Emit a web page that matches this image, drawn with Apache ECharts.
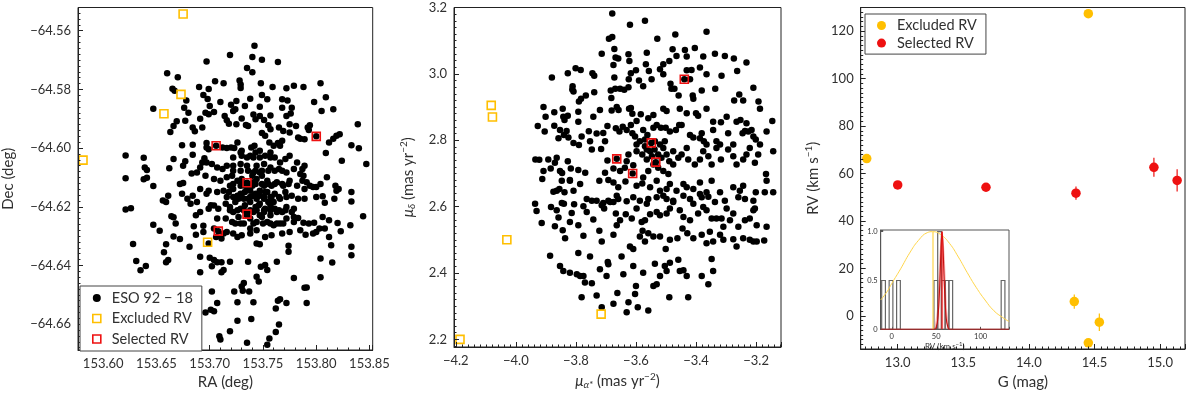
<!DOCTYPE html>
<html><head><meta charset="utf-8">
<script src="https://cdn.jsdelivr.net/npm/echarts@6/dist/echarts.min.js"></script>
<style>html,body{margin:0;padding:0;background:#fff}#c{width:1200px;height:395px}</style>
</head><body><div id="c"></div>
<script>
// ---------- Panel 1: RA / Dec ----------
const esoRaDec = [
[153.742,-64.5651],[153.719,-64.5683],[153.740,-64.5690],[153.749,-64.5699],[153.697,-64.5705],[153.764,-64.5707],[153.735,-64.5727],[153.740,-64.5742],[153.660,-64.5745],[153.670,-64.5759],
[153.705,-64.5772],[153.713,-64.5779],[153.728,-64.5770],[153.729,-64.5783],[153.729,-64.5795],[153.748,-64.5779],[153.690,-64.5792],[153.699,-64.5799],[153.759,-64.5792],[153.665,-64.5798],
[153.667,-64.5805],[153.772,-64.5796],[153.779,-64.5788],[153.788,-64.5792],[153.804,-64.5779],[153.809,-64.5827],[153.694,-64.5819],[153.698,-64.5833],[153.738,-64.5832],[153.749,-64.5819],
[153.754,-64.5834],[153.768,-64.5834],[153.773,-64.5838],[153.798,-64.5843],[153.805,-64.5874],[153.816,-64.5868],[153.647,-64.5866],[153.678,-64.5838],[153.676,-64.5863],[153.680,-64.5880],
[153.677,-64.5907],[153.669,-64.5909],[153.666,-64.5925],[153.663,-64.5945],[153.684,-64.5930],[153.686,-64.5943],[153.691,-64.5900],[153.693,-64.5930],[153.696,-64.5880],[153.699,-64.5885],
[153.704,-64.5877],[153.700,-64.5857],[153.710,-64.5843],[153.720,-64.5852],[153.725,-64.5840],[153.714,-64.5891],[153.716,-64.5905],[153.718,-64.5917],[153.722,-64.5874],[153.724,-64.5868],
[153.730,-64.5899],[153.734,-64.5921],[153.736,-64.5925],[153.725,-64.5919],[153.741,-64.5886],[153.743,-64.5902],[153.747,-64.5891],[153.747,-64.5859],[153.751,-64.5904],[153.757,-64.5889],
[153.755,-64.5922],[153.757,-64.5936],[153.768,-64.5863],[153.772,-64.5891],[153.776,-64.5882],[153.777,-64.5863],[153.765,-64.5930],[153.769,-64.5942],[153.775,-64.5919],[153.781,-64.5925],
[153.792,-64.5930],[153.794,-64.5922],[153.733,-64.5857],[153.839,-64.5919],
[153.674,-64.5990],[153.684,-64.5989],[153.697,-64.5983],[153.697,-64.5998],[153.699,-64.6004],[153.712,-64.5998],[153.716,-64.6000],[153.720,-64.5998],[153.723,-64.6000],[153.726,-64.5981],
[153.729,-64.6015],[153.730,-64.6026],[153.739,-64.5998],[153.742,-64.5992],[153.749,-64.5949],[153.752,-64.5958],[153.756,-64.5981],[153.760,-64.5992],[153.764,-64.5983],[153.766,-64.5992],
[153.768,-64.5975],[153.775,-64.5947],[153.783,-64.5964],[153.785,-64.5968],[153.789,-64.5970],[153.793,-64.5938],[153.812,-64.5981],[153.816,-64.5968],[153.819,-64.5958],[153.822,-64.5953],
[153.833,-64.5990],[153.840,-64.6001],[153.809,-64.6017],[153.824,-64.6043],[153.847,-64.6054],[153.621,-64.6025],[153.638,-64.6033],[153.639,-64.6066],[153.641,-64.6075],[153.677,-64.6045],
[153.675,-64.6060],[153.684,-64.6023],[153.695,-64.6035],[153.697,-64.6049],[153.702,-64.6054],[153.662,-64.6069],[153.666,-64.6037],
[153.621,-64.6103],[153.641,-64.6101],[153.638,-64.6106],[153.647,-64.6129],[153.656,-64.6179],[153.661,-64.6162],[153.659,-64.6184],[153.672,-64.6122],[153.675,-64.6119],[153.683,-64.6087],
[153.688,-64.6083],[153.691,-64.6066],[153.674,-64.6156],[153.679,-64.6173],[153.684,-64.6162],[153.682,-64.6190],
[153.621,-64.6209],[153.626,-64.6205],[153.664,-64.6232],[153.666,-64.6236],[153.668,-64.6257],[153.647,-64.6261],[153.653,-64.6282],[153.666,-64.6301],[153.672,-64.6310],[153.688,-64.6184],
[153.687,-64.6229],[153.685,-64.6266],[153.687,-64.6295],[153.694,-64.6265],[153.694,-64.6286],[153.704,-64.6274],[153.691,-64.6218],[153.699,-64.6207],[153.704,-64.6196],[153.697,-64.6156],
[153.628,-64.6327],[153.659,-64.6328],[153.681,-64.6336],[153.657,-64.6355],[153.659,-64.6389],[153.661,-64.6381],[153.631,-64.6385],[153.635,-64.6416],[153.640,-64.6402],[153.699,-64.6325],
[153.691,-64.6370],[153.700,-64.6374],[153.704,-64.6381],[153.702,-64.6403],[153.691,-64.6423],[153.707,-64.6389],[153.711,-64.6423],[153.713,-64.6415],[153.711,-64.6389],[153.719,-64.6387],
[153.706,-64.6303],[153.711,-64.6308],[153.713,-64.6291],[153.726,-64.6303],
[153.696,-64.6560],[153.702,-64.6489],[153.707,-64.6528],[153.701,-64.6551],[153.704,-64.6556],[153.709,-64.6641],[153.710,-64.6652],[153.719,-64.6624],[153.726,-64.6588],[153.723,-64.6489],
[153.726,-64.6525],[153.730,-64.6472],[153.731,-64.6486],[153.735,-64.6663],[153.739,-64.6582],[153.741,-64.6525],[153.754,-64.6670],[153.756,-64.6649],[153.762,-64.6627],[153.765,-64.6601],
[153.762,-64.6547],[153.764,-64.6520],[153.766,-64.6515],[153.772,-64.6528],[153.746,-64.6455],[153.744,-64.6438],[153.752,-64.6398],[153.754,-64.6415],[153.748,-64.6404],[153.763,-64.6387],
[153.737,-64.6489],[153.732,-64.6460],[153.736,-64.6387],[153.744,-64.6325],[153.747,-64.6328],[153.789,-64.6476],[153.791,-64.6475],[153.791,-64.6528],[153.804,-64.6440],[153.815,-64.6390],
[153.833,-64.6365],[153.779,-64.6443],[153.774,-64.6353],[153.774,-64.6333],
[153.789,-64.6060],[153.787,-64.6071],[153.785,-64.6088],[153.788,-64.6094],[153.779,-64.6071],[153.810,-64.6099],[153.787,-64.6111],[153.791,-64.6116],[153.794,-64.6128],[153.797,-64.6133],
[153.800,-64.6133],[153.804,-64.6122],[153.789,-64.6139],[153.818,-64.6128],[153.819,-64.6145],[153.821,-64.6139],[153.833,-64.6150],[153.800,-64.6167],[153.806,-64.6164],[153.808,-64.6186],
[153.789,-64.6173],[153.817,-64.6173],[153.777,-64.6218],[153.779,-64.6235],[153.783,-64.6238],[153.788,-64.6254],[153.793,-64.6257],[153.798,-64.6254],[153.806,-64.6235],[153.808,-64.6274],
[153.812,-64.6246],[153.820,-64.6255],[153.823,-64.6283],[153.832,-64.6263],[153.844,-64.6232],[153.790,-64.6295],[153.797,-64.6291],[153.800,-64.6286],[153.803,-64.6274],[153.812,-64.6303],
[153.814,-64.6331],[153.833,-64.6336],[153.804,-64.6376],[153.833,-64.6182],
[153.730,-64.6009],[153.738,-64.6026],[153.743,-64.6015],[153.747,-64.6009],[153.752,-64.6026],[153.757,-64.6015],[153.761,-64.6032],[153.766,-64.6049],[153.771,-64.6037],[153.775,-64.6026],
[153.782,-64.6049],[153.693,-64.6049],[153.707,-64.6066],[153.712,-64.6071],[153.716,-64.6060],[153.722,-64.6060],[153.729,-64.6054],[153.735,-64.6060],[153.744,-64.6060],[153.751,-64.6054],
[153.757,-64.6066],[153.765,-64.6071],[153.772,-64.6083],[153.696,-64.6094],[153.704,-64.6105],[153.710,-64.6111],[153.716,-64.6099],[153.721,-64.6094],[153.726,-64.6111],[153.730,-64.6105],
[153.740,-64.6094],[153.744,-64.6105],[153.749,-64.6094],[153.754,-64.6111],[153.758,-64.6128],[153.763,-64.6116],[153.769,-64.6128],[153.775,-64.6111],[153.782,-64.6128],[153.691,-64.6139],
[153.699,-64.6145],[153.707,-64.6150],[153.713,-64.6145],[153.718,-64.6150],[153.722,-64.6139],[153.729,-64.6156],[153.733,-64.6150],[153.738,-64.6145],[153.743,-64.6156],[153.747,-64.6145],
[153.752,-64.6150],[153.757,-64.6167],[153.761,-64.6156],[153.766,-64.6173],[153.771,-64.6150],[153.777,-64.6162],[153.783,-64.6173],[153.701,-64.6195],[153.708,-64.6207],[153.715,-64.6190],
[153.719,-64.6201],[153.724,-64.6184],[153.729,-64.6207],[153.733,-64.6195],[153.738,-64.6184],[153.743,-64.6201],[153.747,-64.6190],[153.752,-64.6207],[153.757,-64.6195],[153.761,-64.6207],
[153.768,-64.6218],[153.772,-64.6201],[153.779,-64.6207],[153.707,-64.6240],[153.715,-64.6240],[153.721,-64.6252],[153.727,-64.6235],[153.732,-64.6257],[153.738,-64.6240],[153.744,-64.6252],
[153.749,-64.6235],[153.754,-64.6252],[153.760,-64.6263],[153.766,-64.6257],[153.772,-64.6240],[153.779,-64.6252],[153.716,-64.6286],[153.722,-64.6291],[153.730,-64.6297],[153.738,-64.6291],
[153.744,-64.6280],[153.752,-64.6303],[153.758,-64.6297],[153.768,-64.6291],[153.775,-64.6286],[153.785,-64.6280],
[153.733,-64.6128],[153.736,-64.6139],[153.740,-64.6128],[153.741,-64.6162],[153.744,-64.6173],[153.747,-64.6162],[153.751,-64.6173],[153.746,-64.6195],[153.741,-64.6218],[153.736,-64.6173],
[153.732,-64.6173],[153.751,-64.6128],[153.754,-64.6150],[153.755,-64.6184],[153.741,-64.6116],[153.729,-64.6128],[153.726,-64.6162],[153.735,-64.6229],[153.751,-64.6218],[153.760,-64.6184],
[153.722,-64.6218],[153.727,-64.6173],[153.719,-64.6128],[153.763,-64.6218],[153.738,-64.6274],[153.747,-64.6229],[153.757,-64.6229],[153.741,-64.6083],[153.747,-64.6083],
[153.722,-64.6077],[153.729,-64.6077],[153.736,-64.6077],[153.743,-64.6077],[153.749,-64.6077],[153.755,-64.6077],[153.761,-64.6077],[153.768,-64.6077],
[153.722,-64.6122],[153.730,-64.6122],[153.736,-64.6122],[153.743,-64.6122],[153.749,-64.6122],[153.755,-64.6122],[153.761,-64.6122],[153.768,-64.6122],[153.774,-64.6122],
[153.716,-64.6167],[153.722,-64.6167],[153.730,-64.6167],[153.738,-64.6167],[153.744,-64.6167],[153.751,-64.6167],[153.758,-64.6167],[153.765,-64.6167],[153.772,-64.6167],
[153.719,-64.6212],[153.726,-64.6212],[153.732,-64.6212],[153.738,-64.6212],[153.744,-64.6212],[153.751,-64.6212],[153.757,-64.6212],[153.765,-64.6212],[153.771,-64.6212],
[153.724,-64.6257],[153.729,-64.6257],[153.741,-64.6257],[153.750,-64.6257],[153.757,-64.6257],[153.763,-64.6257],[153.769,-64.6257],
[153.722,-64.6032],[153.735,-64.6032],[153.741,-64.6032],[153.747,-64.6032],[153.757,-64.6032],
[153.706,-64.5992],[153.800,-64.5960],[153.735,-64.6118],[153.735,-64.6225],[153.708,-64.6283]
];
const excludedRaDec = [[153.675,-64.5543],[153.673,-64.5817],[153.657,-64.5883],[153.581,-64.6041],[153.698,-64.6321]];
const selectedRaDec = [[153.706,-64.5992],[153.800,-64.5960],[153.735,-64.6118],[153.735,-64.6225],[153.708,-64.6283]];

// ---------- Panel 2: proper motions ----------
const esoPm = [
[-3.679,3.182],[-3.620,3.148],[-3.570,3.160],[-3.529,3.106],[-3.469,3.119],[-3.365,3.127],[-3.690,3.106],[-3.679,3.111],[-3.714,3.061],[-3.672,3.075],
[-3.564,3.064],[-3.625,3.059],[-3.622,3.039],[-3.668,3.049],[-3.659,3.046],[-3.478,3.074],[-3.437,3.072],[-3.465,3.054],[-3.489,3.039],[-3.431,3.052],
[-3.404,3.078],[-3.376,3.052],[-3.337,3.061],[-3.304,3.054],[-3.274,3.046],[-3.509,3.029],[-3.520,3.014],[-3.880,2.989],[-3.827,3.002],[-3.801,3.017],
[-3.784,3.012],[-3.745,3.002],[-3.739,2.994],[-3.672,2.989],[-3.675,3.027],[-3.600,3.011],[-3.617,3.002],[-3.624,2.984],[-3.590,2.980],[-3.567,3.029],
[-3.557,3.009],[-3.509,2.999],[-3.431,3.011],[-3.415,3.012],[-3.387,3.019],[-3.365,2.999],[-3.315,2.994],[-3.263,3.009],[-3.232,3.034],[-3.811,2.963],
[-3.812,2.953],[-3.808,2.947],[-3.783,2.925],[-3.790,2.917],[-3.767,2.935],[-3.739,2.945],[-3.684,2.950],[-3.682,2.927],[-3.669,2.955],[-3.653,2.955],
[-3.639,2.952],[-3.625,2.960],[-3.576,2.963],[-3.548,2.984],[-3.485,2.970],[-3.482,2.955],[-3.472,2.955],[-3.458,2.935],[-3.420,2.984],[-3.409,2.925],
[-3.411,2.935],[-3.381,2.950],[-3.336,2.955],[-3.273,2.920],[-3.256,2.938],[-3.209,2.958],[-3.192,2.917],[-3.187,2.895],[-3.243,2.920],[-3.908,2.900],
[-3.901,2.871],[-3.872,2.884],[-3.844,2.895],[-3.842,2.871],[-3.838,2.861],[-3.827,2.874],[-3.792,2.886],[-3.792,2.856],[-3.742,2.871],[-3.720,2.891],
[-3.681,2.890],[-3.664,2.900],[-3.658,2.891],[-3.623,2.895],[-3.617,2.897],[-3.612,2.880],[-3.598,2.858],[-3.584,2.878],[-3.559,2.866],[-3.542,2.876],
[-3.509,2.895],[-3.498,2.888],[-3.456,2.846],[-3.454,2.895],[-3.431,2.881],[-3.400,2.881],[-3.393,2.874],[-3.365,2.895],[-3.343,2.856],[-3.317,2.854],
[-3.298,2.871],[-3.265,2.856],[-3.252,2.861],[-3.237,2.828],[-3.232,2.851],[-3.215,2.831],[-3.146,2.858],[-3.927,2.843],[-3.904,2.826],[-3.872,2.844],
[-3.853,2.831],[-3.840,2.816],[-3.858,2.806],[-3.831,2.828],[-3.825,2.808],[-3.808,2.792],[-3.790,2.786],[-3.781,2.811],[-3.757,2.827],[-3.753,2.797],
[-3.731,2.820],[-3.709,2.822],[-3.703,2.797],[-3.695,2.843],[-3.667,2.836],[-3.655,2.826],[-3.644,2.841],[-3.631,2.831],[-3.617,2.846],[-3.612,2.821],
[-3.603,2.811],[-3.576,2.831],[-3.562,2.816],[-3.542,2.838],[-3.531,2.846],[-3.517,2.838],[-3.501,2.838],[-3.487,2.826],[-3.467,2.831],[-3.448,2.846],
[-3.420,2.816],[-3.409,2.808],[-3.387,2.806],[-3.381,2.821],[-3.374,2.797],[-3.365,2.787],[-3.343,2.831],[-3.332,2.797],[-3.320,2.787],[-3.293,2.821],
[-3.276,2.787],[-3.245,2.821],[-3.226,2.826],[-3.209,2.811],[-3.201,2.802],[-3.187,2.787],[-3.165,2.826],
[-3.935,2.742],[-3.922,2.741],[-3.908,2.707],[-3.892,2.742],[-3.884,2.715],[-3.870,2.732],[-3.864,2.747],[-3.853,2.707],[-3.846,2.701],[-3.827,2.737],
[-3.820,2.678],[-3.817,2.715],[-3.792,2.710],[-3.769,2.702],[-3.747,2.772],[-3.716,2.774],[-3.695,2.739],[-3.703,2.702],[-3.675,2.715],[-3.653,2.707],
[-3.637,2.717],[-3.631,2.737],[-3.609,2.725],[-3.598,2.767],[-3.579,2.757],[-3.570,2.782],[-3.564,2.742],[-3.553,2.767],[-3.547,2.752],[-3.538,2.772],
[-3.526,2.757],[-3.515,2.747],[-3.509,2.777],[-3.498,2.757],[-3.489,2.737],[-3.476,2.727],[-3.459,2.747],[-3.448,2.757],[-3.431,2.777],[-3.426,2.742],
[-3.404,2.727],[-3.387,2.742],[-3.376,2.767],[-3.359,2.752],[-3.348,2.727],[-3.332,2.777],[-3.317,2.742],[-3.293,2.772],[-3.276,2.752],[-3.265,2.727],
[-3.243,2.742],[-3.232,2.757],[-3.221,2.777],[-3.204,2.732],[-3.193,2.757],[-3.167,2.698],[-3.143,2.767],
[-3.587,2.797],[-3.570,2.802],[-3.537,2.797],[-3.520,2.787],[-3.504,2.797],[-3.542,2.727],[-3.526,2.717],[-3.509,2.707],[-3.492,2.698],[-3.559,2.707],
[-3.576,2.688],[-3.476,2.767],[-3.564,2.772],[-3.598,2.787],[-3.625,2.757],
[-3.912,2.683],[-3.847,2.678],[-3.820,2.680],[-3.786,2.668],[-3.722,2.678],[-3.692,2.680],[-3.675,2.673],[-3.659,2.658],[-3.635,2.676],[-3.598,2.663],
[-3.579,2.670],[-3.553,2.658],[-3.531,2.678],[-3.520,2.648],[-3.498,2.653],[-3.487,2.668],[-3.465,2.648],[-3.442,2.668],[-3.431,2.658],[-3.409,2.653],
[-3.387,2.673],[-3.365,2.643],[-3.348,2.678],[-3.320,2.643],[-3.276,2.658],[-3.254,2.648],[-3.243,2.663],[-3.201,2.643],[-3.165,2.678],
[-3.875,2.645],[-3.864,2.648],[-3.855,2.653],[-3.838,2.643],[-3.808,2.648],[-3.764,2.623],[-3.731,2.618],[-3.709,2.611],[-3.686,2.614],[-3.664,2.633],
[-3.659,2.623],[-3.631,2.616],[-3.609,2.628],[-3.587,2.618],[-3.559,2.623],[-3.531,2.628],[-3.509,2.633],[-3.498,2.623],[-3.476,2.618],[-3.442,2.633],
[-3.420,2.623],[-3.387,2.638],[-3.381,2.628],[-3.359,2.630],[-3.337,2.614],[-3.304,2.618],[-3.259,2.628],[-3.237,2.623],[-3.209,2.618],[-3.204,2.594],
[-3.171,2.643],[-3.143,2.643],
[-3.936,2.609],[-3.931,2.587],[-3.883,2.599],[-3.864,2.589],[-3.847,2.611],[-3.840,2.609],[-3.814,2.581],[-3.806,2.607],[-3.775,2.601],[-3.764,2.584],
[-3.747,2.618],[-3.714,2.604],[-3.706,2.594],[-3.692,2.618],[-3.675,2.614],[-3.667,2.579],[-3.653,2.559],[-3.634,2.577],[-3.614,2.564],[-3.598,2.594],
[-3.581,2.554],[-3.570,2.559],[-3.564,2.609],[-3.553,2.577],[-3.531,2.584],[-3.520,2.574],[-3.498,2.579],[-3.487,2.594],[-3.476,2.614],[-3.454,2.589],
[-3.442,2.569],[-3.420,2.559],[-3.409,2.609],[-3.393,2.579],[-3.376,2.599],[-3.365,2.589],[-3.348,2.564],[-3.332,2.564],[-3.315,2.564],[-3.309,2.539],
[-3.298,2.594],[-3.287,2.559],[-3.276,2.579],[-3.259,2.539],[-3.237,2.559],[-3.221,2.564],[-3.209,2.589],[-3.198,2.544],[-3.165,2.539],
[-3.914,2.551],[-3.870,2.541],[-3.858,2.567],[-3.844,2.529],[-3.836,2.505],[-3.820,2.554],[-3.792,2.544],[-3.775,2.512],[-3.742,2.561],[-3.722,2.527],
[-3.714,2.495],[-3.675,2.515],[-3.664,2.544],[-3.648,2.450],[-3.620,2.480],[-3.609,2.472],[-3.587,2.510],[-3.578,2.527],[-3.570,2.495],[-3.559,2.520],
[-3.542,2.510],[-3.520,2.510],[-3.501,2.472],[-3.487,2.500],[-3.462,2.505],[-3.445,2.534],[-3.429,2.520],[-3.409,2.505],[-3.381,2.515],[-3.365,2.490],
[-3.354,2.524],[-3.343,2.495],[-3.320,2.515],[-3.309,2.500],[-3.276,2.502],[-3.265,2.480],[-3.243,2.505],[-3.221,2.500],[-3.209,2.495],[-3.198,2.495],
[-3.173,2.498],
[-3.886,2.452],[-3.853,2.421],[-3.842,2.406],[-3.820,2.401],[-3.792,2.460],[-3.775,2.391],[-3.770,2.371],[-3.753,2.450],[-3.747,2.369],[-3.731,2.332],
[-3.720,2.411],[-3.714,2.297],[-3.698,2.391],[-3.694,2.433],[-3.692,2.426],[-3.675,2.307],[-3.662,2.340],[-3.642,2.396],[-3.625,2.312],[-3.609,2.421],
[-3.603,2.337],[-3.600,2.361],[-3.594,2.297],[-3.576,2.401],[-3.559,2.287],[-3.542,2.361],[-3.537,2.428],[-3.531,2.366],[-3.520,2.391],[-3.504,2.421],
[-3.498,2.406],[-3.489,2.327],[-3.487,2.431],[-3.459,2.440],[-3.454,2.406],[-3.442,2.408],[-3.431,2.391],[-3.426,2.327],[-3.381,2.391],[-3.359,2.366],
[-3.348,2.442],[-3.343,2.406],[-3.797,2.396],[-3.786,2.391],[-3.781,2.327],[-3.631,2.282],
[-3.439,2.984],[-3.664,2.744],[-3.549,2.792],[-3.534,2.734],[-3.611,2.700]
];
const excludedPm = [[-4.082,2.905],[-4.078,2.870],[-4.030,2.500],[-3.716,2.276],[-4.186,2.200]];
const selectedPm = [[-3.439,2.984],[-3.664,2.744],[-3.549,2.792],[-3.534,2.734],[-3.611,2.700]];

// ---------- Panel 3: G vs RV  [G, RV, error] ----------
const rvExcluded = [[12.764,66.3,1.0],[14.453,127.4,1.0],[14.346,6.0,3.0],[14.537,-2.7,3.7],[14.453,-11.4,1.0]];
const rvSelected = [[13.000,55.2,1.0],[13.673,54.2,1.0],[14.359,51.7,2.8],[14.953,62.6,4.0],[15.130,57.1,4.7]];

// ---------- Inset: RV distribution ----------
const histLeft = [-11.4,-2.99,5.42,47.48,51.69,55.9,60.1,64.31,123.19];
const histHeight = [0.5,0.5,0.5,0.5,1.0,0.5,0.5,0.5,0.5];
const histBinWidth = 4.206;
const yellowCurve = [[-12.5,0.30],[-5,0.39],[0,0.47],[10,0.62],[20,0.78],[30,0.91],[40,0.99],[46,1.0],[55,0.97],[65,0.88],[75,0.74],[85,0.58],[95,0.43],[105,0.30],[115,0.19],[125,0.12],[132,0.08]];
const redCurve = [[-12.5,0],[48,0],[50,0.02],[52,0.12],[54,0.45],[55.5,0.85],[56.6,1.0],[57.7,0.85],[59.2,0.45],[61.2,0.12],[63.2,0.02],[65,0],[132,0]];
const redBand = [[49,0],[52,0.2],[54.5,0.7],[56.6,1.0],[58.7,0.7],[61.2,0.2],[64,0]];
const excludedMeanRV = 46.4;
const selectedMeanRV = 56.6;

// ---------- styling ----------
const YEL = '#ffbf00', RED = '#ee1111', FONT = 'Lato', TXT = '#303030', AX = '#222';
const fmt = (step, dec) => v => {
  const k = v / step;
  if (Math.abs(k - Math.round(k)) > 1e-6) return '';
  return v.toFixed(dec).replace('-', '\u2212');
};
const rich = {
  m: {fontFamily: FONT, fontSize: 15, fontStyle: 'italic', color: TXT},
  s: {fontFamily: FONT, fontSize: 10, fontStyle: 'italic', color: TXT, padding: [8, 0, 0, 0]},
  p: {fontFamily: FONT, fontSize: 10, color: TXT, padding: [0, 0, 8, 0]},
  ps: {fontFamily: FONT, fontSize: 6, color: TXT, padding: [0, 0, 5, 0]}
};
function axis(o) {
  const small = !!o.small;
  return {
    type: 'value', gridIndex: o.grid, min: o.min, max: o.max,
    minInterval: o.step, maxInterval: o.step, splitNumber: 5,
    name: o.name, nameLocation: 'middle', nameGap: o.gap,
    nameTextStyle: {fontFamily: FONT, fontSize: small ? 8 : 15, color: TXT, rich: rich},
    axisLine: {show: true, onZero: false, lineStyle: {color: small ? '#555' : AX, width: 1}},
    axisTick: {show: true, inside: true, length: small ? 2.5 : 5, lineStyle: {color: small ? '#555' : AX}},
    minorTick: {show: !small, splitNumber: o.minor || 10, length: 2.5, lineStyle: {color: AX}},
    splitLine: {show: false},
    axisLabel: {formatter: o.fmt, margin: small ? 3 : 7, fontFamily: FONT, fontSize: small ? 7.5 : 13, color: TXT, hideOverlap: false},
    z: 5
  };
}
const chart = echarts.init(document.getElementById('c'), null, {renderer: 'canvas'});
const hollow = c => ({color: 'rgba(255,255,255,0)', borderColor: c, borderWidth: 1.6, opacity: 1});
const solid = c => ({color: c, opacity: 1});
function errBar(color) {
  return function (params, api) {
    const g = api.value(0), rv = api.value(1), e = api.value(2);
    const a = api.coord([g, rv - e]), b = api.coord([g, rv + e]);
    return {type: 'line', shape: {x1: a[0], y1: a[1], x2: b[0], y2: b[1]}, style: {stroke: color, lineWidth: 1.2}};
  };
}
const option = {
  animation: false,
  backgroundColor: '#fff',
  grid: [
    {left: 77, top: 7.5, width: 295.7, height: 344.5, show: true, borderColor: AX, borderWidth: 1, backgroundColor: 'transparent'},
    {left: 454, top: 7.5, width: 327, height: 344.5, show: true, borderColor: AX, borderWidth: 1, backgroundColor: 'transparent'},
    {left: 860.7, top: 7.5, width: 324.3, height: 345.5, show: true, borderColor: AX, borderWidth: 1, backgroundColor: 'transparent'},
    {left: 880.7, top: 230, width: 128.3, height: 99.3, show: true, borderColor: '#555', borderWidth: 1, backgroundColor: '#fff', z: 4}
  ],
  xAxis: [
    axis({grid: 0, min: 153.5763, max: 153.853, step: 0.05, minor: 5, fmt: fmt(0.05, 2), name: 'RA (deg)', gap: 25}),
    axis({grid: 1, min: -4.206, max: -3.117, step: 0.2, fmt: fmt(0.2, 1), name: '{m|μ}{s|α*} (mas yr{p|−2})', gap: 25}),
    axis({grid: 2, min: 12.718, max: 15.19, step: 0.5, fmt: fmt(0.5, 1), name: 'G (mag)', gap: 26}),
    axis({grid: 3, min: -12.5, max: 132, step: 50, small: true, fmt: fmt(50, 0), name: 'RV (km s{ps|−1})', gap: 11})
  ],
  yAxis: [
    axis({grid: 0, min: -64.6688, max: -64.5521, step: 0.02, fmt: fmt(0.02, 2), name: 'Dec (deg)', gap: 62}),
    axis({grid: 1, min: 2.177, max: 3.2, step: 0.2, fmt: fmt(0.2, 1), name: '{m|μ}{s|δ} (mas yr{p|−2})', gap: 37}),
    axis({grid: 2, min: -14.0, max: 130, step: 20, fmt: fmt(20, 0), name: 'RV (km s{p|−1})', gap: 39}),
    axis({grid: 3, min: 0, max: 1.017, step: 0.5, small: true, fmt: v => v === 0 ? '0' : fmt(0.5, 1)(v), name: '', gap: 10})
  ],
  legend: [
    {
      left: 80, top: 286, orient: 'vertical', selectedMode: false,
      itemWidth: 8, itemHeight: 8, itemGap: 4.5,
      padding: [4, 9, 4, 12], borderColor: '#444', borderWidth: 1, backgroundColor: '#fff',
      textStyle: {fontFamily: FONT, fontSize: 14.5, color: TXT, lineHeight: 16, padding: [0, 0, 0, 6]},
      data: [
        {name: 'ESO 92 − 18', icon: 'circle', itemStyle: {color: '#000', borderWidth: 0, opacity: 1}},
        {name: 'Excluded RV', icon: 'rect', itemStyle: {color: '#fff', borderColor: YEL, borderWidth: 1.6}},
        {name: 'Selected RV', icon: 'rect', itemStyle: {color: '#fff', borderColor: RED, borderWidth: 1.6}}
      ],
      z: 10
    },
    {
      left: 865, top: 14, orient: 'vertical', selectedMode: false,
      itemWidth: 9, itemHeight: 9, itemGap: 1.6,
      padding: [3.5, 9, 3, 12], borderColor: '#444', borderWidth: 1, backgroundColor: '#fff',
      textStyle: {fontFamily: FONT, fontSize: 14.5, color: TXT, lineHeight: 16, padding: [0, 0, 0, 6]},
      formatter: n => n === 'rv-excluded' ? 'Excluded RV' : 'Selected RV',
      data: [{name: 'rv-excluded', icon: 'circle', itemStyle: {opacity: 1}}, {name: 'rv-selected', icon: 'circle', itemStyle: {opacity: 1}}],
      z: 10
    }
  ],
  series: [
    {name: 'ESO 92 − 18', type: 'scatter', xAxisIndex: 0, yAxisIndex: 0, data: esoRaDec, symbol: 'circle', symbolSize: 6.5, itemStyle: solid('#000'), z: 2},
    {name: 'Excluded RV', type: 'scatter', xAxisIndex: 0, yAxisIndex: 0, data: excludedRaDec, symbol: 'rect', symbolSize: 8, itemStyle: hollow(YEL), z: 3},
    {name: 'Selected RV', type: 'scatter', xAxisIndex: 0, yAxisIndex: 0, data: selectedRaDec, symbol: 'rect', symbolSize: 8, itemStyle: hollow(RED), z: 3},

    {name: 'pm-members', type: 'scatter', xAxisIndex: 1, yAxisIndex: 1, data: esoPm, symbol: 'circle', symbolSize: 6.5, itemStyle: solid('#000'), z: 2},
    {name: 'pm-excluded', type: 'scatter', xAxisIndex: 1, yAxisIndex: 1, data: excludedPm, symbol: 'rect', symbolSize: 8, itemStyle: hollow(YEL), z: 3},
    {name: 'pm-selected', type: 'scatter', xAxisIndex: 1, yAxisIndex: 1, data: selectedPm, symbol: 'rect', symbolSize: 8, itemStyle: hollow(RED), z: 3},

    {name: 'err-excluded', type: 'custom', xAxisIndex: 2, yAxisIndex: 2, data: rvExcluded, encode: {x: 0, y: 1}, renderItem: errBar(YEL), z: 2},
    {name: 'err-selected', type: 'custom', xAxisIndex: 2, yAxisIndex: 2, data: rvSelected, encode: {x: 0, y: 1}, renderItem: errBar(RED), z: 2},
    {name: 'rv-excluded', type: 'scatter', xAxisIndex: 2, yAxisIndex: 2, data: rvExcluded, symbol: 'circle', symbolSize: 9.5, itemStyle: solid(YEL), z: 3},
    {name: 'rv-selected', type: 'scatter', xAxisIndex: 2, yAxisIndex: 2, data: rvSelected, symbol: 'circle', symbolSize: 9.5, itemStyle: solid(RED), z: 3},

    {name: 'hist', type: 'custom', xAxisIndex: 3, yAxisIndex: 3, clip: true, z: 6,
      data: histLeft.map((l, i) => [l, histBinWidth, histHeight[i]]),
      encode: {x: 0, y: 2},
      renderItem: function (params, api) {
        const x0 = api.value(0), w = api.value(1), h = api.value(2);
        const p0 = api.coord([x0, 0]), p1 = api.coord([x0 + w, h]);
        return {type: 'rect', shape: {x: p0[0], y: p1[1], width: p1[0] - p0[0], height: p0[1] - p1[1]},
          style: {fill: 'none', stroke: '#666', lineWidth: 1.2}};
      }},
    {name: 'yellow-fit', type: 'line', xAxisIndex: 3, yAxisIndex: 3, data: yellowCurve, smooth: true, showSymbol: false, lineStyle: {color: '#ffd54a', width: 1}, z: 7},
    {name: 'yellow-mean', type: 'line', xAxisIndex: 3, yAxisIndex: 3, data: [[excludedMeanRV, 0], [excludedMeanRV, 1]], showSymbol: false, lineStyle: {color: '#ffd54a', width: 1.2}, z: 7},
    {name: 'red-band', type: 'line', xAxisIndex: 3, yAxisIndex: 3, data: redBand, smooth: 0.2, showSymbol: false, lineStyle: {color: 'rgba(238,17,17,0.3)', width: 2}, areaStyle: {color: 'rgba(238,17,17,0.12)'}, z: 7},
    {name: 'red-fit', type: 'line', xAxisIndex: 3, yAxisIndex: 3, data: redCurve, smooth: 0.2, showSymbol: false, lineStyle: {color: '#c81010', width: 1.1}, z: 8},
    {name: 'red-mean', type: 'line', xAxisIndex: 3, yAxisIndex: 3, data: [[selectedMeanRV, 0], [selectedMeanRV, 1]], showSymbol: false, lineStyle: {color: RED, width: 1.2}, z: 8}
  ]
};
chart.setOption(option);
</script>
</body></html>
